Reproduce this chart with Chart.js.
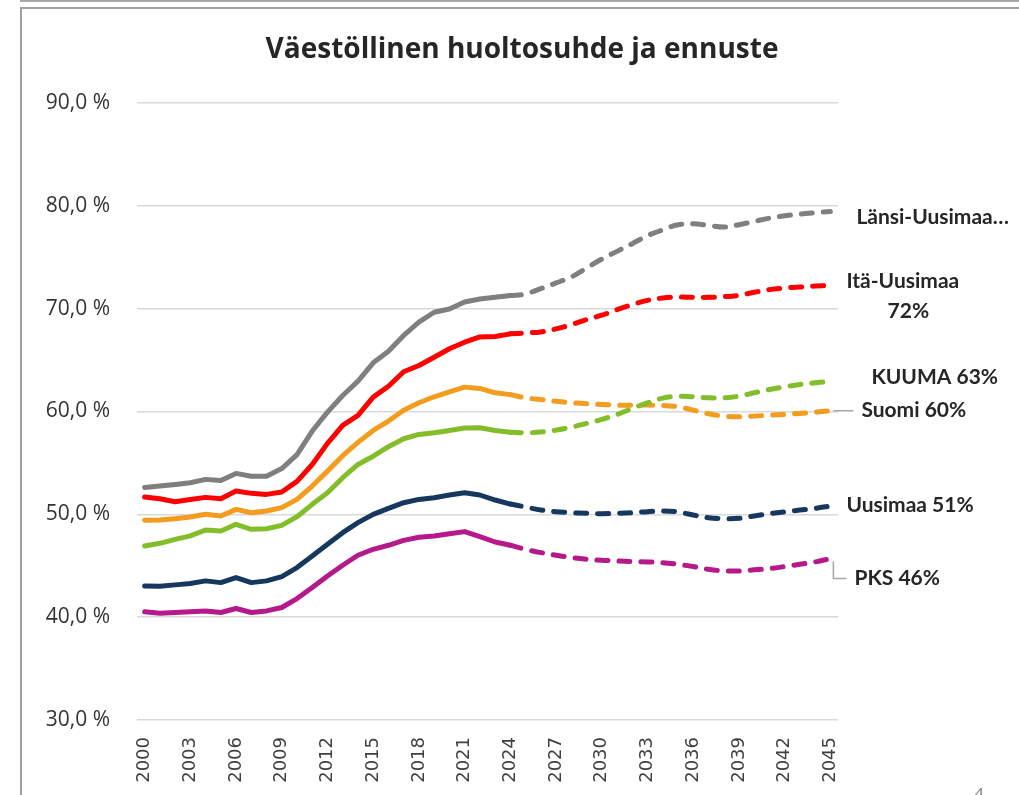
<!DOCTYPE html>
<html>
  <head>
    <meta charset="UTF-8" />
    <title>Väestöllinen huoltosuhde ja ennuste</title>
    <style>
      html, body { margin: 0; padding: 0; background: #fff; overflow: hidden; }
      #wrap { position: relative; width: 1019px; height: 795px; }
      #frame { position: absolute; left: 20px; top: 7px; width: 1100px; height: 900px; border-left: 2px solid #a0a0a0; border-top: 2px solid #a0a0a0; }
      #topline { position: absolute; left: 20px; top: 0px; width: 1000px; height: 0; border-top: 2px solid #a8a8a8; }
      #pagenum { position: absolute; left: 973px; top: 781px; font: 20px "Open Sans", sans-serif; color: #8c8c8c; }
      canvas { position: absolute; left: 0; top: 0; }
    </style>
  </head>
  <body>
    <div id="wrap">
      <div id="topline"></div>
      <div id="frame"></div>
      <canvas id="myCanvas" width="1019" height="795"></canvas>
      <div id="pagenum">4</div>
    </div>
    <script src="https://cdn.jsdelivr.net/npm/chart.js@4/dist/chart.umd.min.js"></script>
    <script>
      // vuodet
      const years = [2000, 2001, 2002, 2003, 2004, 2005, 2006, 2007, 2008, 2009,
        2010, 2011, 2012, 2013, 2014, 2015, 2016, 2017, 2018, 2019,
        2020, 2021, 2022, 2023, 2024, 2025, 2026, 2027, 2028, 2029,
        2030, 2031, 2032, 2033, 2034, 2035, 2036, 2037, 2038, 2039,
        2040, 2041, 2042, 2043, 2044, 2045];

      // toteutunut 2000-2024
      const lansiHist = [52.6, 52.75, 52.9, 53.07, 53.4, 53.3, 53.98, 53.7, 53.7, 54.45, 55.8, 58.1, 59.94, 61.56, 62.95, 64.73, 65.86, 67.4, 68.7, 69.65, 69.97, 70.65, 70.94, 71.1, 71.27];
      const itaHist = [51.68, 51.52, 51.23, 51.45, 51.65, 51.52, 52.26, 52.04, 51.94, 52.17, 53.2, 54.85, 56.9, 58.65, 59.62, 61.4, 62.46, 63.86, 64.47, 65.28, 66.1, 66.74, 67.25, 67.3, 67.55];
      const suomiHist = [49.42, 49.45, 49.58, 49.74, 50.0, 49.84, 50.48, 50.16, 50.32, 50.65, 51.45, 52.75, 54.2, 55.7, 57.0, 58.16, 59.07, 60.13, 60.85, 61.43, 61.9, 62.37, 62.24, 61.82, 61.64];
      const kuumaHist = [46.92, 47.18, 47.57, 47.9, 48.48, 48.38, 49.03, 48.54, 48.6, 48.93, 49.77, 50.97, 52.1, 53.56, 54.85, 55.65, 56.58, 57.35, 57.77, 57.93, 58.16, 58.39, 58.42, 58.16, 57.98];
      const uusimaaHist = [43.04, 43.0, 43.14, 43.27, 43.53, 43.36, 43.85, 43.36, 43.53, 43.95, 44.82, 45.95, 47.09, 48.22, 49.19, 50.0, 50.58, 51.13, 51.45, 51.62, 51.88, 52.1, 51.88, 51.39, 51.0];
      const pksHist = [40.52, 40.39, 40.45, 40.52, 40.61, 40.45, 40.84, 40.45, 40.61, 40.94, 41.81, 42.88, 44.01, 45.05, 46.02, 46.6, 46.99, 47.47, 47.77, 47.9, 48.12, 48.32, 47.83, 47.31, 47.0];

      // ennuste 2024-2045
      const lansiFc = [71.27, 71.43, 71.95, 72.5, 73.08, 73.95, 74.83, 75.57, 76.32, 77.1, 77.67, 78.16, 78.26, 78.1, 77.93, 78.16, 78.48, 78.8, 79.03, 79.2, 79.33, 79.45];
      const itaFc = [67.55, 67.64, 67.74, 68.03, 68.45, 68.94, 69.36, 69.91, 70.39, 70.81, 71.04, 71.14, 71.1, 71.1, 71.17, 71.3, 71.59, 71.85, 72.01, 72.1, 72.2, 72.27];
      const suomiFc = [61.64, 61.33, 61.17, 61.0, 60.85, 60.75, 60.68, 60.62, 60.62, 60.62, 60.59, 60.46, 60.13, 59.78, 59.55, 59.49, 59.55, 59.65, 59.71, 59.81, 59.94, 60.07];
      const kuumaFc = [57.98, 57.93, 58.0, 58.19, 58.48, 58.84, 59.23, 59.71, 60.3, 60.85, 61.3, 61.49, 61.43, 61.33, 61.33, 61.49, 61.82, 62.14, 62.4, 62.63, 62.79, 62.95];
      const uusimaaFc = [51.0, 50.71, 50.42, 50.26, 50.16, 50.1, 50.06, 50.1, 50.16, 50.26, 50.32, 50.23, 49.93, 49.67, 49.58, 49.61, 49.84, 50.06, 50.23, 50.42, 50.58, 50.81];
      const pksFc = [47.0, 46.6, 46.28, 46.02, 45.79, 45.63, 45.53, 45.47, 45.4, 45.37, 45.3, 45.14, 44.92, 44.66, 44.5, 44.5, 44.6, 44.72, 44.92, 45.14, 45.37, 45.7];

      const endLabels = [["Länsi-Uusimaa…"], ["Itä-Uusimaa", "72%"], ["KUUMA 63%"], ["Suomi 60%"], ["Uusimaa 51%"], ["PKS 46%"]];

      const colors = ["#7f7f7f", "#ff0000", "#84bd2a", "#f39c1e", "#17375e", "#b5198a"];
      const hist = [lansiHist, itaHist, kuumaHist, suomiHist, uusimaaHist, pksHist];
      const fc = [lansiFc, itaFc, kuumaFc, suomiFc, uusimaaFc, pksFc];

      // label offsets from the last point (px)
      const labelPos = [
        { dx: 26, dy: 6 },
        { dx: 16, dy: -4, dx2: 78, dy2: 26 },
        { dx: 41, dy: -4 },
        { dx: 31, dy: -1, leader: "h" },
        { dx: 16, dy: -1 },
        { dx: 24, dy: 20, leader: "l" }
      ];

      const histStart = years.indexOf(2000);
      const fcStart = years.indexOf(2024);

      const datasets = [];
      hist.forEach((h, i) => {
        const data = years.map((y, k) => (k - histStart < h.length ? h[k - histStart] : null));
        datasets.push({
          data: data,
          borderColor: colors[i],
          borderWidth: 5,
          pointRadius: 0,
          tension: 0,
          borderCapStyle: "round",
          borderJoinStyle: "round"
        });
      });
      fc.forEach((f, i) => {
        const data = years.map((y, k) => (k >= fcStart ? f[k - fcStart] : null));
        datasets.push({
          data: data,
          borderColor: colors[i],
          borderWidth: 5,
          borderDash: [11, 11],
          pointRadius: 0,
          tension: 0.35,
          borderCapStyle: "round",
          borderJoinStyle: "round"
        });
      });

      const extras = {
        id: "extras",
        afterDraw(chart) {
          const c = chart.ctx;
          const xs = chart.scales.x, ys = chart.scales.y;
          c.save();
          // otsikko
          c.fillStyle = "#262626";
          c.font = "bold 28px 'Open Sans'";
          c.textAlign = "center";
          c.textBaseline = "middle";
          c.fillText("Väestöllinen huoltosuhde ja ennuste", 522, 50);

          c.font = "bold 21px Lato";
          c.textBaseline = "middle";
          fc.forEach((f, i) => {
            const px = xs.getPixelForValue(years.length - 1);
            const py = ys.getPixelForValue(f[f.length - 1]);
            const p = labelPos[i];
            c.strokeStyle = "#a6a6a6";
            c.lineWidth = 1.5;
            if (p.leader === "h") {
              c.beginPath();
              c.moveTo(px + 3, py);
              c.lineTo(px + p.dx - 8, py);
              c.stroke();
            } else if (p.leader === "l") {
              c.beginPath();
              c.moveTo(px + 3, py + 3);
              c.lineTo(px + 3, py + p.dy);
              c.lineTo(px + p.dx - 8, py + p.dy);
              c.stroke();
            }
            c.fillStyle = "#262626";
            c.textAlign = "left";
            c.fillText(endLabels[i][0], px + p.dx, py + p.dy);
            if (endLabels[i][1]) {
              c.textAlign = "center";
              c.fillText(endLabels[i][1], px + p.dx2, py + p.dy2);
            }
          });
          c.restore();
        }
      };

      const ctx = document.getElementById("myCanvas").getContext("2d");
      const myChart = new Chart(ctx, {
        type: "line",
        data: { labels: years, datasets: datasets },
        options: {
          responsive: false,
          animation: false,
          layout: { padding: { top: 103, right: 181, left: 0, bottom: 0 } },
          plugins: { legend: { display: false }, tooltip: { enabled: false }, title: { display: false } },
          scales: {
            x: {
              offset: true,
              grid: { display: false, drawTicks: false },
              border: { display: false },
              afterFit(scale) { scale.height = 75; },
              ticks: {
                autoSkip: false,
                maxRotation: 90,
                minRotation: 90,
                padding: 17,
                color: "#404040",
                font: { family: "DejaVu Sans", size: 18 },
                callback(v, i) { return i % 3 === 0 ? String(years[i]) : ""; }
              }
            },
            y: {
              min: 30,
              max: 90,
              grid: { color: "#d9d9d9", lineWidth: 1.5, drawTicks: false },
              border: { display: false },
              afterFit(scale) { scale.width = 137; },
              ticks: {
                stepSize: 10,
                padding: 27,
                color: "#333333",
                font: { family: "Open Sans", size: 21 },
                callback(v) { return v.toFixed(1).replace(".", ",") + " %"; }
              }
            }
          }
        },
        plugins: [extras]
      });
    </script>
  </body>
</html>
